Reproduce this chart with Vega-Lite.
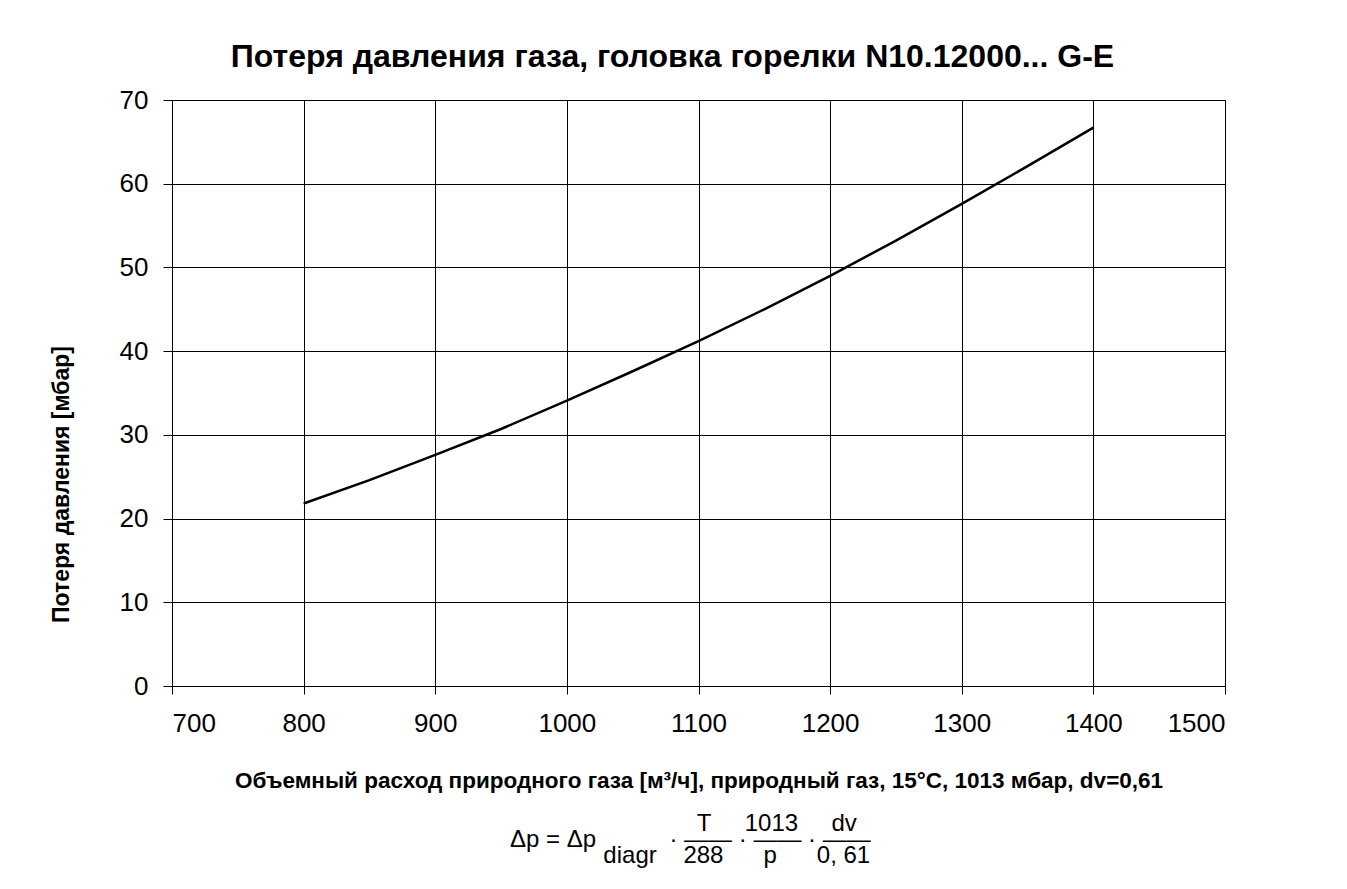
{
  "$schema": "https://vega.github.io/schema/vega-lite/v6.json",
  "autosize": "none",
  "width": 1053,
  "height": 586,
  "padding": {"left": 172, "top": 100, "right": 122, "bottom": 203},
  "background": "white",
  "config": {
    "font": "Liberation Sans",
    "view": {"stroke": "#000", "strokeWidth": 1},
    "axis": {
      "domainColor": "#000",
      "tickColor": "#000",
      "gridColor": "#000",
      "gridOpacity": 1,
      "labelColor": "#000",
      "titleColor": "#000",
      "labelFont": "Liberation Sans",
      "titleFont": "Liberation Sans"
    }
  },
  "title": {
    "text": [
      "\u200b\u00a0\u00a0\u00a0\u00a0\u00a0\u00a0\u00a0\u00a0\u00a0\u00a0\u00a0\u00a0\u00a0\u00a0\u00a0\u00a0\u00a0\u00a0\u00a0\u00a0\u00a0\u00a0\u00a0\u00a0\u00a0\u00a0\u00a0\u00a0T\u00a0\u00a0\u00a0\u00a0\u00a01013\u00a0\u00a0\u00a0\u00a0\u00a0dv",
      "Δp = Δp\u00a0\u00a0\u00a0\u00a0\u00a0\u00a0\u00a0\u00a0\u00a0\u00a0\u00a0· —— · —— · ——",
      "\u200b\u00a0\u00a0\u00a0\u00a0\u00a0\u00a0\u00a0\u00a0\u00a0\u00a0\u00a0\u00a0\u00a0\u00a0diagr\u00a0\u00a0\u00a0\u00a0288\u00a0\u00a0\u00a0\u00a0\u00a0\u00a0p\u00a0\u00a0\u00a0\u00a0\u00a0\u00a00, 61"
    ],
    "orient": "bottom",
    "anchor": "start",
    "frame": "group",
    "align": "left",
    "dx": 338,
    "offset": 20,
    "font": "Liberation Sans",
    "fontSize": 24,
    "fontWeight": "normal",
    "lineHeight": 16,
    "color": "#000"
  },
  "data": {
    "values": [
      {"V": 800, "P": 21.8},
      {"V": 850, "P": 24.6},
      {"V": 900, "P": 27.6},
      {"V": 950, "P": 30.7},
      {"V": 1000, "P": 34.1},
      {"V": 1050, "P": 37.6},
      {"V": 1100, "P": 41.2},
      {"V": 1150, "P": 45.0},
      {"V": 1200, "P": 49.0},
      {"V": 1250, "P": 53.2},
      {"V": 1300, "P": 57.6},
      {"V": 1350, "P": 62.1},
      {"V": 1400, "P": 66.7}
    ]
  },
  "encoding": {
    "y": {
      "field": "P",
      "type": "quantitative",
      "scale": {"domain": [0, 70], "nice": false, "zero": true},
      "axis": {
        "values": [0, 10, 20, 30, 40, 50, 60, 70],
        "format": "d",
        "title": "Потеря давления [мбар]",
        "titleFontSize": 23,
        "titleFontWeight": "bold",
        "titleX": -111,
        "titleY": 384,
        "titleBaseline": "middle",
        "labelFontSize": 26,
        "labelPadding": 15,
        "tickSize": 9,
        "grid": true,
        "domain": true
      }
    }
  },
  "layer": [
    {
      "mark": {"type": "line", "color": "#000", "strokeWidth": 2.5},
      "encoding": {
        "x": {
          "field": "V",
          "type": "quantitative",
          "scale": {"domain": [700, 1500], "nice": false, "zero": false},
          "axis": {
            "values": [700, 800, 900, 1000, 1100, 1200, 1300, 1400, 1500],
            "format": "d",
            "title": "Объемный расход природного газа [м³/ч], природный газ, 15°C, 1013 мбар, dv=0,61",
            "titleFontSize": 22.5,
            "titleFontWeight": "bold",
            "titleY": 94,
            "titleBaseline": "middle",
            "labelFontSize": 26,
            "labelPadding": 16,
            "tickSize": 8,
            "grid": true,
            "domain": true
          }
        }
      }
    },
    {
      "mark": {"type": "line", "opacity": 0},
      "encoding": {
        "x": {
          "field": "V",
          "type": "quantitative",
          "scale": {"domain": [700, 1500], "nice": false, "zero": false},
          "axis": {
            "orient": "top",
            "title": "Потеря давления газа, головка горелки N10.12000... G-E",
            "labels": false,
            "ticks": false,
            "domain": false,
            "grid": false,
            "titleFontSize": 32,
            "titleFontWeight": "bold",
            "titleX": 500,
            "titleY": -44,
            "titleAlign": "center",
            "titleBaseline": "middle"
          }
        }
      }
    }
  ],
  "resolve": {"scale": {"x": "independent"}, "axis": {"x": "independent"}}
}
